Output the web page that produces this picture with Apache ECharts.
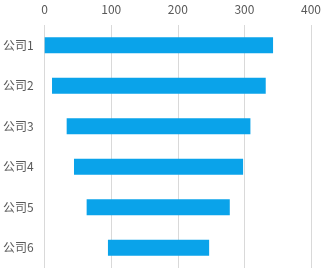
<!DOCTYPE html>
<html><head><meta charset="utf-8">
<script src="https://cdn.jsdelivr.net/npm/echarts@6/dist/echarts.min.js"></script>
<style>html,body{margin:0;padding:0;background:#fff}#c{width:328px;height:270px}</style>
</head><body><div id="c"></div>
<script>
const categories = ['公司1','公司2','公司3','公司4','公司5','公司6'];
const startValues = [0, 11, 33, 44, 63, 95];
const endValues = [343, 332, 309, 298, 278, 247];
const xTicks = [0, 100, 200, 300, 400];

const lengths = endValues.map((e, i) => e - startValues[i]);
const chart = echarts.init(document.getElementById('c'));
chart.setOption({
  animation: false,
  grid: {left: 44.7, right: 17, top: 25, bottom: 2},
  xAxis: {
    type: 'value', position: 'top', min: xTicks[0], max: xTicks[xTicks.length-1], interval: 100,
    axisLine: {show: false}, axisTick: {show: false},
    axisLabel: {color: '#595959', fontSize: 12, fontFamily: 'Noto Sans CJK SC', margin: 10},
    splitLine: {lineStyle: {color: '#d9d9d9', width: 1}}
  },
  yAxis: {
    type: 'category', data: categories, inverse: true,
    axisLine: {show: false}, axisTick: {show: false},
    axisLabel: {color: '#595959', fontSize: 12, fontFamily: 'Noto Sans CJK SC', margin: 11}
  },
  series: [
    {type: 'bar', stack: 's', data: startValues, itemStyle: {color: 'transparent'}, barWidth: 16, silent: true},
    {type: 'bar', stack: 's', data: lengths, itemStyle: {color: '#0aa3ea'}, barWidth: 16}
  ]
});
</script></body></html>
